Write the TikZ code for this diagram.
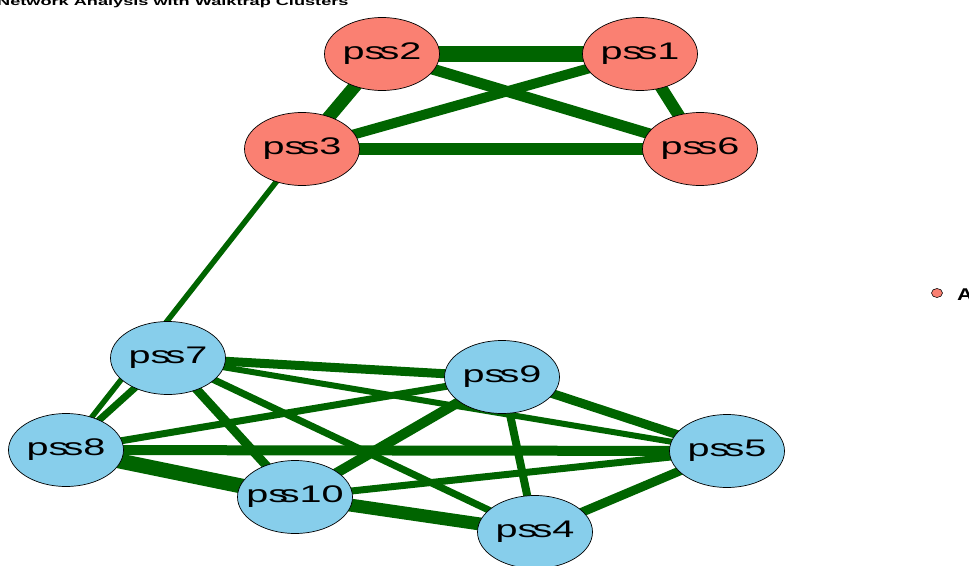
\documentclass[tikz,border=0pt]{standalone}
\usepackage{fontspec}
\setmainfont{Liberation Sans}
\usetikzlibrary{shapes.geometric,backgrounds}
\definecolor{edgegreen}{HTML}{006400}
\definecolor{salmonc}{HTML}{FA8072}
\definecolor{skyc}{HTML}{87CEEB}
\tikzset{
 vbase/.style={ellipse, draw=black, line width=0.7pt, minimum width=115pt, minimum height=73pt, inner sep=0pt, font=\fontsize{24}{24}\selectfont},
 vred/.style={vbase, fill=salmonc},
 vblue/.style={vbase, fill=skyc},
 lnk/.style={draw=edgegreen, line width=#1},
}
\newcommand{\lbl}[1]{\makebox[0pt]{\scalebox{1.65}[1]{#1}}}
\begin{document}
\begin{tikzpicture}[x=1pt,y=-1pt]
\useasboundingbox (0,0) rectangle (969,565);
\clip (0,0) rectangle (969,565);
% title
\node[anchor=base west, inner sep=0pt, font=\bfseries\fontsize{11}{11}\selectfont] (title) at (-3,5) {\scalebox{1.65}[1]{Network Analysis with Walktrap Clusters}};
% legend
\node[ellipse, draw=black, line width=0.6pt, fill=salmonc, minimum width=11pt, minimum height=9pt, inner sep=0pt] (legdot) at (937,293) {};
\node[anchor=base west, inner sep=0pt, font=\bfseries\fontsize{17}{17}\selectfont] (legtxt) at (957,300) {\scalebox{1.3}[1]{A}};
% nodes
\node[vred] (p2) at (382,54) {\lbl{ps\kern-3pt s2}};
\node[vred] (p1) at (640,54) {\lbl{ps\kern-3pt s1}};
\node[vred] (p3) at (302,149) {\lbl{ps\kern-3pt s3}};
\node[vred] (p6) at (700,149) {\lbl{ps\kern-3pt s6}};
\node[vblue] (p7) at (168,358) {\lbl{ps\kern-3pt s7}};
\node[vblue] (p9) at (502,377) {\lbl{ps\kern-3pt s9}};
\node[vblue] (p8) at (66,450) {\lbl{ps\kern-3pt s8}};
\node[vblue] (p5) at (727,451) {\lbl{ps\kern-3pt s5}};
\node[vblue] (p10) at (295,497) {\lbl{ps\kern-5pt s10}};
\node[vblue] (p4) at (535,532) {\lbl{ps\kern-3pt s4}};
\begin{pgfonlayer}{background}
% top cluster
\draw[lnk=16pt] (p2.center) -- (p1.center);
\draw[lnk=11pt] (p2.center) -- (p6.center);
\draw[lnk=10pt] (p1.center) -- (p3.center);
\draw[lnk=12pt] (p3.center) -- (p6.center);
\draw[lnk=13pt] (p2.center) -- (p3.center);
\draw[lnk=12pt] (p1.center) -- (p6.center);
% bridge
\draw[lnk=5.5pt] (p3.center) -- (p8.center);
% bottom cluster
\draw[lnk=9pt] (p7.center) -- (p9.center);
\draw[lnk=6pt] (p7.center) -- (p5.center);
\draw[lnk=9pt] (p7.center) -- (p10.center);
\draw[lnk=7pt] (p7.center) -- (p4.center);
\draw[lnk=7pt] (p7.center) -- (p8.center);
\draw[lnk=7pt] (p8.center) -- (p9.center);
\draw[lnk=10pt] (p8.center) -- (p5.center);
\draw[lnk=15pt] (p8.center) -- (p10.center);
\draw[lnk=10pt] (p9.center) -- (p10.center);
\draw[lnk=8pt] (p9.center) -- (p4.center);
\draw[lnk=9pt] (p9.center) -- (p5.center);
\draw[lnk=7pt] (p10.center) -- (p5.center);
\draw[lnk=13pt] (p10.center) -- (p4.center);
\draw[lnk=9pt] (p4.center) -- (p5.center);
\end{pgfonlayer}
\end{tikzpicture}
\end{document}
